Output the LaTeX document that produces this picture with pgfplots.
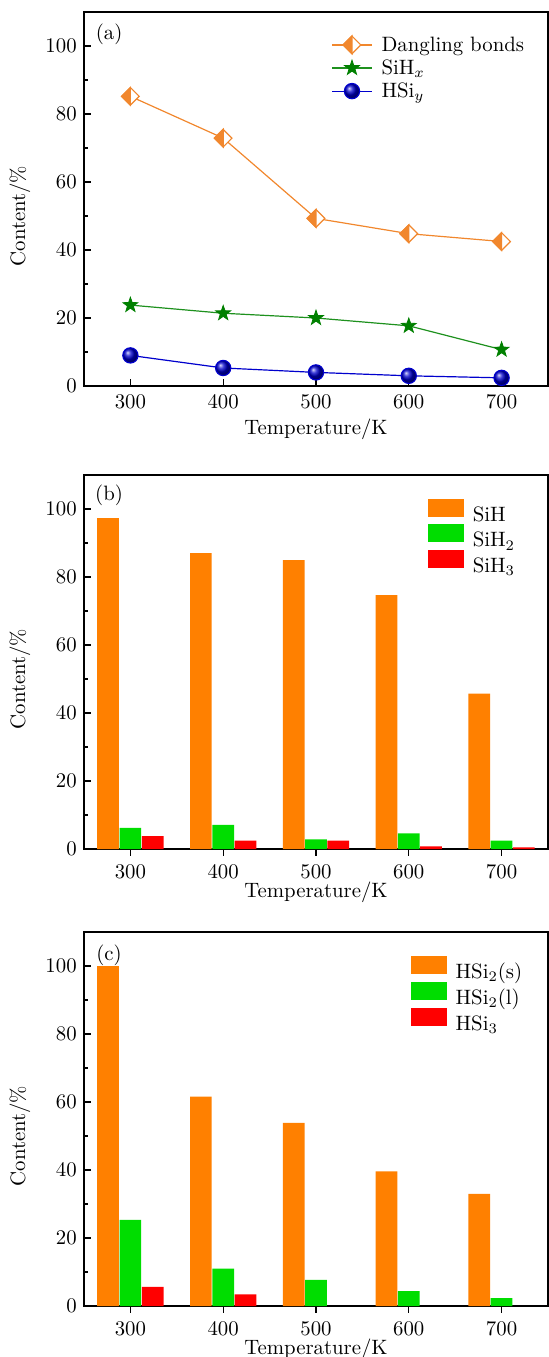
\RequirePackage{fix-cm}
\documentclass[border=0pt]{standalone}
\usepackage{pgfplots}
\pgfplotsset{compat=1.18}
\definecolor{dbor}{RGB}{241,135,45}
\definecolor{sgreen}{RGB}{0,128,0}
\definecolor{lgreen}{RGB}{30,145,30}
\definecolor{bblue}{RGB}{0,0,205}
\definecolor{barorange}{RGB}{255,128,0}
\definecolor{bargreen}{RGB}{0,221,0}
\definecolor{barred}{RGB}{255,0,0}

\pgfdeclareplotmark{halfdiamond}{%
  \pgfpathmoveto{\pgfqpoint{0pt}{\pgfplotmarksize}}%
  \pgfpathlineto{\pgfqpoint{\pgfplotmarksize}{0pt}}%
  \pgfpathlineto{\pgfqpoint{0pt}{-\pgfplotmarksize}}%
  \pgfpathlineto{\pgfqpoint{-\pgfplotmarksize}{0pt}}%
  \pgfpathclose
  \pgfsetfillcolor{white}\pgfusepath{fill,stroke}%
  \pgfpathmoveto{\pgfqpoint{0pt}{\pgfplotmarksize}}%
  \pgfpathlineto{\pgfqpoint{-\pgfplotmarksize}{0pt}}%
  \pgfpathlineto{\pgfqpoint{0pt}{-\pgfplotmarksize}}%
  \pgfpathclose
  \pgfsetfillcolor{dbor}\pgfusepath{fill,stroke}%
}
\pgfdeclareplotmark{fstar}{%
  \pgfpathmoveto{\pgfpointpolar{90}{\pgfplotmarksize}}%
  \pgfpathlineto{\pgfpointpolar{126}{0.40\pgfplotmarksize}}%
  \pgfpathlineto{\pgfpointpolar{162}{\pgfplotmarksize}}%
  \pgfpathlineto{\pgfpointpolar{198}{0.40\pgfplotmarksize}}%
  \pgfpathlineto{\pgfpointpolar{234}{\pgfplotmarksize}}%
  \pgfpathlineto{\pgfpointpolar{270}{0.40\pgfplotmarksize}}%
  \pgfpathlineto{\pgfpointpolar{306}{\pgfplotmarksize}}%
  \pgfpathlineto{\pgfpointpolar{342}{0.40\pgfplotmarksize}}%
  \pgfpathlineto{\pgfpointpolar{18}{\pgfplotmarksize}}%
  \pgfpathlineto{\pgfpointpolar{54}{0.40\pgfplotmarksize}}%
  \pgfpathclose
  \pgfusepathqfillstroke
}

\pgfplotsset{
  myaxis/.style={
    scale only axis, width=232pt, height=187pt,
    xmin=250, xmax=750, ymin=0, ymax=110,
    xtick={300,400,500,600,700},
    ytick={0,20,40,60,80,100},
    minor y tick num=1,
    xtick pos=left, ytick pos=left,
    tick align=inside,
    major tick length=3.3pt, minor tick length=2.2pt,
    axis line style={line width=0.8pt},
    every tick/.append style={line width=0.6pt, black},
    xlabel={Temperature/K}, ylabel={Content/\%},
    xlabel style={at={(axis description cs:0.5,-0.115)}, anchor=center},
    ylabel style={at={(axis description cs:-0.138,0.4545)}, anchor=center},
    xticklabel style={yshift=-1pt},
    legend cell align=left,
    legend style={draw=none, fill=none, inner sep=0pt, row sep=0pt, column sep=2pt,
      nodes={inner xsep=2.5pt, inner ysep=0.7pt, text height=8.15pt, text depth=2pt}},
  },
  barlegend/.style={
    legend style={row sep=-1pt},
    legend image code/.code={\fill[##1] (0pt,-0.85pt) rectangle (18pt,8.15pt);}
  }
}

\begin{document}
\fontsize{10.4}{12.5}\selectfont
\begin{tikzpicture}
\path[use as bounding box] (-42pt,6pt) rectangle (232.5pt,-672.5pt);

% (a)
\begin{axis}[myaxis, at={(0pt,0pt)}, anchor=north west,
  legend style={at={(0.5325,0.944)}, anchor=north west},
  legend image code/.code={\draw[mark repeat=2,mark phase=2] plot coordinates {(0cm,0cm) (0.35cm,0cm) (0.7cm,0cm)};}]
\addplot[color=dbor, line width=0.6pt, mark=halfdiamond, mark size=4.4pt] coordinates {
 (300,85.2) (400,72.9) (500,49.3) (600,44.8) (700,42.5)};
\addlegendentry{Dangling bonds}
\addplot[color=lgreen, line width=0.6pt, mark=fstar, mark size=3.9pt,
  mark options={draw=sgreen, fill=sgreen, line width=0.4pt}] coordinates {
 (300,23.8) (400,21.4) (500,20.0) (600,17.7) (700,10.7)};
\addlegendentry{SiH$_x$}
\addplot[color=bblue, line width=0.6pt, mark=ball, mark size=3.8pt,
  mark options={ball color=bblue}] coordinates {
 (300,9.0) (400,5.3) (500,4.0) (600,3.0) (700,2.4)};
\addlegendentry{HSi$_y$}
\node at (rel axis cs:0.054,0.940) {(a)};
\end{axis}

% (b)
\begin{axis}[myaxis, at={(0pt,-231.5pt)}, anchor=north west,
  ybar=0.3pt, bar width=10.85pt, barlegend,
  legend style={at={(0.740,0.938)}, anchor=north west}]
\addplot[fill=barorange, draw=none] coordinates {
 (300,97.3) (400,87.0) (500,85.0) (600,74.7) (700,45.7)};
\addlegendentry{SiH}
\addplot[fill=bargreen, draw=none] coordinates {
 (300,6.2) (400,7.1) (500,2.8) (600,4.6) (700,2.5)};
\addlegendentry{SiH$_2$}
\addplot[fill=barred, draw=none] coordinates {
 (300,3.8) (400,2.5) (500,2.5) (600,0.8) (700,0.5)};
\addlegendentry{SiH$_3$}
\node at (rel axis cs:0.054,0.946) {(b)};
\end{axis}

% (c)
\begin{axis}[myaxis, at={(0pt,-460pt)}, anchor=north west,
  ybar=0.3pt, bar width=10.85pt, barlegend,
  legend style={at={(0.703,0.936)}, anchor=north west}]
\addplot[fill=barorange, draw=none] coordinates {
 (300,100.0) (400,61.6) (500,53.9) (600,39.6) (700,33.0)};
\addlegendentry{HSi$_2$(s)}
\addplot[fill=bargreen, draw=none] coordinates {
 (300,25.3) (400,11.0) (500,7.7) (600,4.4) (700,2.3)};
\addlegendentry{HSi$_2$(l)}
\addplot[fill=barred, draw=none] coordinates {
 (300,5.6) (400,3.4)};
\addlegendentry{HSi$_3$}
\node at (rel axis cs:0.054,0.939) {(c)};
\end{axis}
\end{tikzpicture}
\end{document}
